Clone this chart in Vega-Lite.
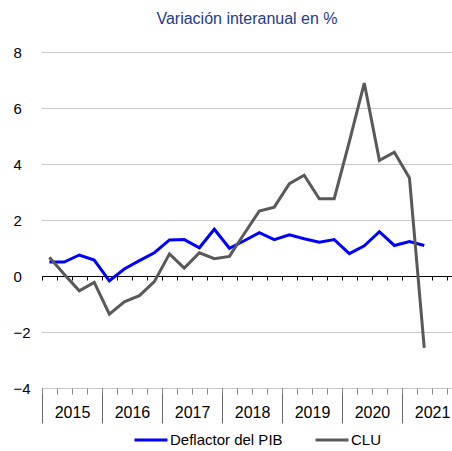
{
  "$schema": "https://vega.github.io/schema/vega-lite/v6.json",
  "width": 410,
  "height": 336,
  "autosize": {"type": "none"},
  "padding": {"left": 42, "top": 52, "right": 0, "bottom": 63},
  "background": "white",
  "config": {"font": "Liberation Sans", "view": {"stroke": null}},
  "title": {"text": "Variación interanual en %", "fontSize": 16, "fontWeight": "normal", "color": "#1F3A8A", "anchor": "middle", "baseline": "alphabetic", "offset": 5},
  "data": {"values": [
    {"fecha": "2015-02-15", "serie": "Deflactor del PIB", "valor": 0.5},
    {"fecha": "2015-05-16", "serie": "Deflactor del PIB", "valor": 0.5},
    {"fecha": "2015-08-16", "serie": "Deflactor del PIB", "valor": 0.75},
    {"fecha": "2015-11-15", "serie": "Deflactor del PIB", "valor": 0.57},
    {"fecha": "2016-02-15", "serie": "Deflactor del PIB", "valor": -0.17},
    {"fecha": "2016-05-16", "serie": "Deflactor del PIB", "valor": 0.25},
    {"fecha": "2016-08-16", "serie": "Deflactor del PIB", "valor": 0.55},
    {"fecha": "2016-11-15", "serie": "Deflactor del PIB", "valor": 0.83},
    {"fecha": "2017-02-15", "serie": "Deflactor del PIB", "valor": 1.29},
    {"fecha": "2017-05-16", "serie": "Deflactor del PIB", "valor": 1.3},
    {"fecha": "2017-08-16", "serie": "Deflactor del PIB", "valor": 1.01},
    {"fecha": "2017-11-15", "serie": "Deflactor del PIB", "valor": 1.67},
    {"fecha": "2018-02-15", "serie": "Deflactor del PIB", "valor": 0.99},
    {"fecha": "2018-05-16", "serie": "Deflactor del PIB", "valor": 1.26},
    {"fecha": "2018-08-16", "serie": "Deflactor del PIB", "valor": 1.55},
    {"fecha": "2018-11-15", "serie": "Deflactor del PIB", "valor": 1.3},
    {"fecha": "2019-02-15", "serie": "Deflactor del PIB", "valor": 1.47},
    {"fecha": "2019-05-16", "serie": "Deflactor del PIB", "valor": 1.33},
    {"fecha": "2019-08-16", "serie": "Deflactor del PIB", "valor": 1.21},
    {"fecha": "2019-11-15", "serie": "Deflactor del PIB", "valor": 1.3},
    {"fecha": "2020-02-15", "serie": "Deflactor del PIB", "valor": 0.8},
    {"fecha": "2020-05-16", "serie": "Deflactor del PIB", "valor": 1.08},
    {"fecha": "2020-08-16", "serie": "Deflactor del PIB", "valor": 1.58},
    {"fecha": "2020-11-15", "serie": "Deflactor del PIB", "valor": 1.09},
    {"fecha": "2021-02-15", "serie": "Deflactor del PIB", "valor": 1.23},
    {"fecha": "2021-05-16", "serie": "Deflactor del PIB", "valor": 1.09},
    {"fecha": "2015-02-15", "serie": "CLU", "valor": 0.67},
    {"fecha": "2015-05-16", "serie": "CLU", "valor": 0.06},
    {"fecha": "2015-08-16", "serie": "CLU", "valor": -0.53},
    {"fecha": "2015-11-15", "serie": "CLU", "valor": -0.23},
    {"fecha": "2016-02-15", "serie": "CLU", "valor": -1.36},
    {"fecha": "2016-05-16", "serie": "CLU", "valor": -0.92},
    {"fecha": "2016-08-16", "serie": "CLU", "valor": -0.7},
    {"fecha": "2016-11-15", "serie": "CLU", "valor": -0.2},
    {"fecha": "2017-02-15", "serie": "CLU", "valor": 0.79},
    {"fecha": "2017-05-16", "serie": "CLU", "valor": 0.28},
    {"fecha": "2017-08-16", "serie": "CLU", "valor": 0.83},
    {"fecha": "2017-11-15", "serie": "CLU", "valor": 0.62},
    {"fecha": "2018-02-15", "serie": "CLU", "valor": 0.7},
    {"fecha": "2018-05-16", "serie": "CLU", "valor": 1.51},
    {"fecha": "2018-08-16", "serie": "CLU", "valor": 2.32},
    {"fecha": "2018-11-15", "serie": "CLU", "valor": 2.46},
    {"fecha": "2019-02-15", "serie": "CLU", "valor": 3.3},
    {"fecha": "2019-05-16", "serie": "CLU", "valor": 3.6},
    {"fecha": "2019-08-16", "serie": "CLU", "valor": 2.76},
    {"fecha": "2019-11-15", "serie": "CLU", "valor": 2.76},
    {"fecha": "2020-02-15", "serie": "CLU", "valor": 4.8},
    {"fecha": "2020-05-16", "serie": "CLU", "valor": 6.89},
    {"fecha": "2020-08-16", "serie": "CLU", "valor": 4.13},
    {"fecha": "2020-11-15", "serie": "CLU", "valor": 4.42},
    {"fecha": "2021-02-15", "serie": "CLU", "valor": 3.5},
    {"fecha": "2021-05-16", "serie": "CLU", "valor": -2.57}
  ]},
  "layer": [
    {
      "mark": {"type": "line", "strokeWidth": 3},
      "encoding": {
        "x": {
          "field": "fecha", "type": "temporal",
          "scale": {"type": "utc", "nice": false, "domain": [{"year": 2015, "month": 1, "date": 1, "utc": true}, {"year": 2021, "month": 11, "date": 1, "utc": true}]},
          "axis": {"orient": "bottom", "tickCount": {"interval": "year", "step": 1}, "format": "%Y", "formatType": "utc", "domain": false, "grid": false, "ticks": true, "tickSize": 35, "tickColor": "#666666", "tickWidth": 1, "labelOffset": 30, "labelPadding": -6, "labelBaseline": "alphabetic", "labelAlign": "center", "labelFontSize": 16, "labelColor": "black", "labelFlush": false, "labelOverlap": false, "title": null, "zindex": 0}
        },
        "y": {
          "field": "valor", "type": "quantitative",
          "scale": {"domain": [-4, 8], "nice": false},
          "axis": {"values": [-4, -2, 0, 2, 4, 6, 8], "grid": true, "gridDash": [1, 1], "gridColor": "#8c8c8c", "gridWidth": 1, "domain": false, "ticks": false, "tickSize": 0, "labelAlign": "left", "labelPadding": 29, "labelFontSize": 15, "labelColor": "black", "title": null}
        },
        "color": {
          "field": "serie", "type": "nominal",
          "scale": {"domain": ["Deflactor del PIB", "CLU"], "range": ["#0000FF", "#595959"]},
          "legend": {"orient": "none", "legendX": 91, "legendY": 370, "direction": "horizontal", "title": null, "symbolType": "stroke", "symbolStrokeWidth": 3, "symbolSize": 1089, "labelFontSize": 15, "labelColor": "black", "columnPadding": 26, "labelOffset": 1}
        }
      }
    },
    {
      "mark": {"type": "point", "opacity": 0},
      "encoding": {
        "x": {"field": "fecha", "type": "temporal",
          "axis": {"orient": "bottom", "tickCount": {"interval": "month", "step": 3}, "labels": false, "domain": false, "grid": false, "ticks": true, "tickSize": 6, "tickColor": "#888888", "tickWidth": 1, "title": null, "zindex": 0}}
      }
    },
    {
      "mark": {"type": "point", "opacity": 0},
      "encoding": {
        "x": {"field": "fecha", "type": "temporal",
          "axis": {"orient": "bottom", "offset": -112, "tickCount": {"interval": "month", "step": 3}, "labels": false, "domain": true, "domainColor": "black", "domainWidth": 1, "grid": false, "ticks": true, "tickSize": 4, "tickColor": "black", "tickWidth": 1, "title": null, "zindex": 0}}
      }
    }
  ],
  "resolve": {"axis": {"x": "independent"}}
}
